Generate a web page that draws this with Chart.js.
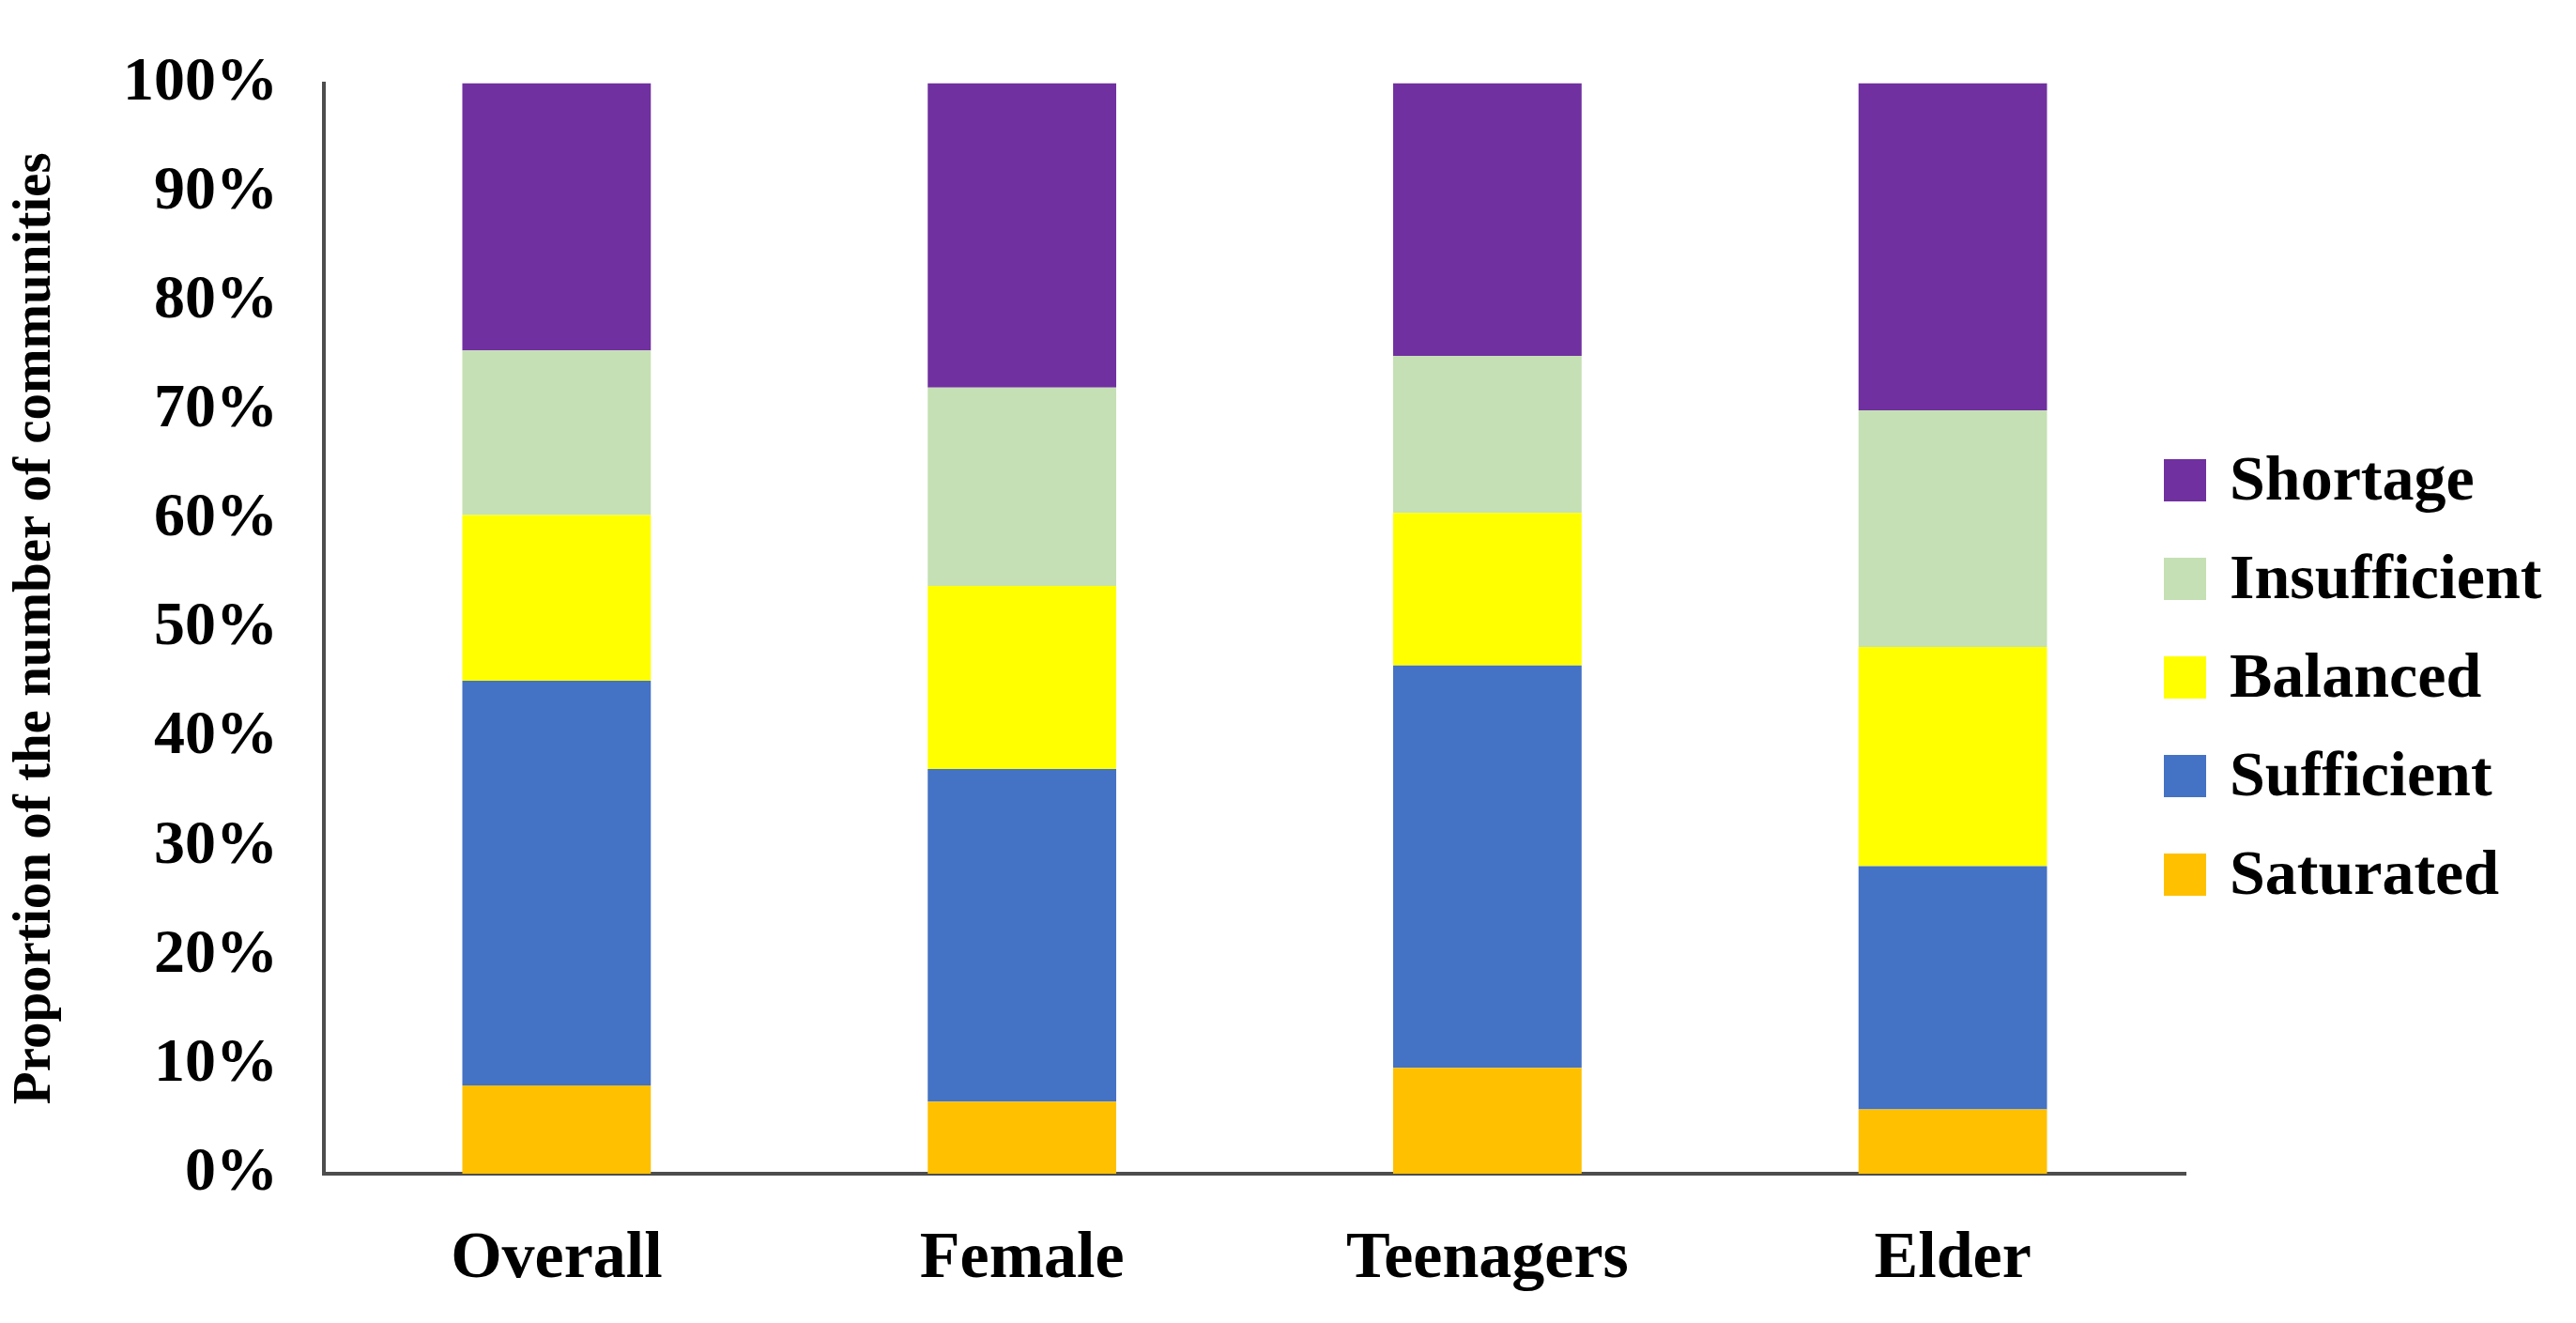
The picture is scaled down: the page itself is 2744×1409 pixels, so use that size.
<!DOCTYPE html>
<html>
<head>
<meta charset="utf-8">
<script src="https://cdn.jsdelivr.net/npm/chart.js@4"></script>
<style>
  html, body { margin: 0; padding: 0; background: #fff; }
  #wrap { width: 2744px; height: 1409px; position: relative; }
</style>
</head>
<body>
<div id="wrap"><canvas id="chart"></canvas></div>
<script>
// -------------------- Data --------------------
const groups = ["Overall", "Female", "Teenagers", "Elder"];
const saturated    = [8.1, 6.6, 9.7, 5.9];
const sufficient   = [37.1, 30.5, 36.9, 22.3];
const balanced     = [15.2, 16.8, 14.0, 20.1];
const insufficient = [15.1, 18.2, 14.4, 21.7];
const shortage     = [24.5, 27.9, 25.0, 30.0];
const yTicks = [0, 10, 20, 30, 40, 50, 60, 70, 80, 90, 100];

const serif = "'Times New Roman', 'Liberation Serif', serif";
const axisColor = "#4d4d4d";

// legend drawn on the right, top row = last dataset (like Excel)
const sideLegend = {
  id: "sideLegend",
  afterDraw(chart) {
    const ctx = chart.ctx;
    const sets = chart.data.datasets.slice().reverse();
    ctx.save();
    ctx.font = "bold 68px " + serif;
    ctx.textBaseline = "middle";
    ctx.textAlign = "left";
    sets.forEach((ds, i) => {
      const cy = 511 + i * 105;
      ctx.fillStyle = ds.backgroundColor;
      ctx.fillRect(2305, cy - 22, 45, 45);
      ctx.fillStyle = "#000";
      ctx.fillText(ds.label, 2375, cy + 3);
    });
    ctx.restore();
  }
};

new Chart(document.getElementById("chart"), {
  type: "bar",
  data: {
    labels: groups,
    datasets: [
      { label: "Saturated", data: saturated, backgroundColor: "#FFC000" },
      { label: "Sufficient", data: sufficient, backgroundColor: "#4472C4" },
      { label: "Balanced", data: balanced, backgroundColor: "#FFFF00" },
      { label: "Insufficient", data: insufficient, backgroundColor: "#C5E0B4" },
      { label: "Shortage", data: shortage, backgroundColor: "#7030A0" }
    ]
  },
  options: {
    responsive: true,
    maintainAspectRatio: false,
    animation: false,
    devicePixelRatio: 1,
    layout: { padding: { top: 85, right: 416, left: 0, bottom: 0 } },
    datasets: { bar: { categoryPercentage: 1, barPercentage: 0.405 } },
    plugins: { legend: { display: false }, tooltip: { enabled: false } },
    scales: {
      x: {
        stacked: true,
        grid: { display: false, drawTicks: false },
        border: { display: true, color: axisColor, width: 4 },
        ticks: { color: "#000", padding: 50, font: { family: serif, size: 70, weight: "bold" } },
        afterFit: s => { s.height = 159; }
      },
      y: {
        stacked: true,
        min: 0,
        max: 100,
        afterBuildTicks: s => { s.ticks = yTicks.map(v => ({ value: v })); },
        grid: { display: false, drawTicks: false },
        border: { display: true, color: axisColor, width: 4 },
        ticks: { color: "#000", padding: 49, font: { family: serif, size: 66, weight: "bold" }, callback: v => v + "%" },
        title: {
          display: true,
          text: "Proportion of the number of communities",
          color: "#000",
          font: { family: serif, size: 57, weight: "bold" }
        },
        afterFit: s => { s.width = 345; }
      }
    }
  },
  plugins: [sideLegend]
});
</script>
</body>
</html>
